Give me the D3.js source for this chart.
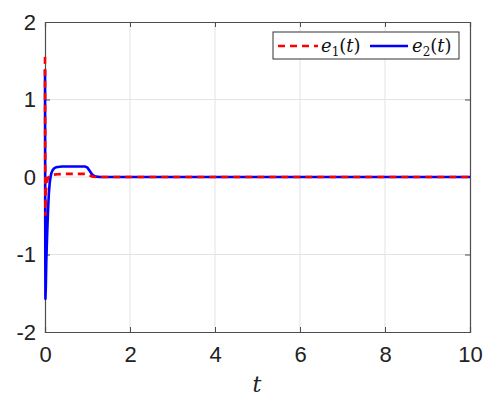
<!DOCTYPE html>
<html><head><meta charset="utf-8">
<script src="https://cdn.jsdelivr.net/npm/d3@7"></script>
<style>body{margin:0;background:#fff}</style>
</head><body>
<svg id="c" width="498" height="400"></svg>
<script>
const xTicks = [0,2,4,6,8,10];
const yTicks = [-2,-1,0,1,2];
// e1(t): red dashed
const e1T = [0, 0.004, 0.01, 0.02, 0.035, 0.05, 0.07, 0.1, 0.15, 0.2, 0.3, 0.5, 0.8, 0.95, 1.0, 1.05, 1.1, 1.2, 1.5, 3, 6, 10];
const e1V = [1.55, 0.3, -0.5, -0.18, -0.12, -0.06, -0.01, 0.01, 0.025, 0.03, 0.035, 0.04, 0.04, 0.04, 0.035, 0.02, 0.008, 0.0, 0.0, 0.0, 0.0, 0.0];
// e2(t): blue solid
const e2T = [0, 0.005, 0.01, 0.02, 0.03, 0.05, 0.07, 0.09, 0.11, 0.13, 0.15, 0.18, 0.22, 0.26, 0.3, 0.4, 0.6, 0.8, 0.95, 1.0, 1.05, 1.1, 1.15, 1.2, 1.3, 1.5, 3, 6, 10];
const e2V = [1.38, -0.5, -1.57, -1.4, -1.1, -0.75, -0.45, -0.22, -0.08, 0.0, 0.05, 0.09, 0.115, 0.125, 0.13, 0.135, 0.135, 0.135, 0.135, 0.12, 0.08, 0.04, 0.015, 0.005, 0.0, 0.0, 0.0, 0.0, 0.0];

const svg = d3.select("#c");
const L = 45, R = 470, T = 22, B = 332;
const x = d3.scaleLinear().domain([0,10]).range([L,R]);
const y = d3.scaleLinear().domain([-2,2]).range([B,T]);

// grid
const g = svg.append("g");
g.selectAll(".gx").data(xTicks.slice(1,-1)).enter().append("line")
  .attr("x1",d=>x(d)).attr("x2",d=>x(d)).attr("y1",T).attr("y2",B)
  .attr("stroke","#e3e3e3").attr("stroke-width",1);
g.selectAll(".gy").data(yTicks.slice(1,-1)).enter().append("line")
  .attr("y1",d=>y(d)).attr("y2",d=>y(d)).attr("x1",L).attr("x2",R)
  .attr("stroke","#e3e3e3").attr("stroke-width",1);

// axes
const fmt = d => String(d);
const xa = svg.append("g").attr("transform",`translate(0,${B})`)
  .call(d3.axisBottom(x).tickValues(xTicks).tickSize(-5).tickPadding(14).tickFormat(fmt));
const ya = svg.append("g").attr("transform",`translate(${L},0)`)
  .call(d3.axisLeft(y).tickValues(yTicks).tickSize(-5).tickPadding(9).tickFormat(fmt));
const xt = svg.append("g").attr("transform",`translate(0,${T})`)
  .call(d3.axisTop(x).tickValues(xTicks).tickSize(-5).tickFormat(""));
const yr = svg.append("g").attr("transform",`translate(${R},0)`)
  .call(d3.axisRight(y).tickValues(yTicks).tickSize(-5).tickFormat(""));
[xa,ya,xt,yr].forEach(a=>{
  a.selectAll("path").attr("stroke","#4d4d4d").attr("stroke-width",1.2);
  a.selectAll("line").attr("stroke","#4d4d4d");
  a.selectAll("text").attr("font-family","'Liberation Sans', Arial, sans-serif").attr("font-size",22).attr("fill","#222");
});

// lines
const line = d3.line().x(d=>x(d[0])).y(d=>y(d[1]));
svg.append("path").datum(e2T.map((t,i)=>[t,e2V[i]]))
  .attr("d",line).attr("fill","none").attr("stroke","#0000ff").attr("stroke-width",2.6)
  .attr("stroke-linejoin","round");
svg.append("path").datum(e1T.map((t,i)=>[t,e1V[i]]))
  .attr("d",line).attr("fill","none").attr("stroke","#ff0000").attr("stroke-width",2.6)
  .attr("stroke-dasharray","7,5");

// x label
svg.append("text").attr("x",257).attr("y",392).attr("text-anchor","middle")
  .attr("font-family","'DejaVu Serif', serif").attr("font-style","italic").attr("font-size",22).attr("fill","#222").text("t");

// legend
const lg = svg.append("g");
lg.append("rect").attr("x",273).attr("y",32).attr("width",186).attr("height",27)
  .attr("fill","#fff").attr("stroke","#333").attr("stroke-width",1);
lg.append("line").attr("x1",278).attr("x2",318).attr("y1",46).attr("y2",46)
  .attr("stroke","#ff0000").attr("stroke-width",2.6).attr("stroke-dasharray","7,5");
lg.append("line").attr("x1",370).attr("x2",408).attr("y1",46).attr("y2",46)
  .attr("stroke","#0000ff").attr("stroke-width",2.6);
function legText(xp, sub){
  const t = lg.append("text").attr("x",xp).attr("y",52)
    .attr("font-family","'DejaVu Serif', serif").attr("font-size",18).attr("fill","#111");
  t.append("tspan").attr("font-style","italic").text("e");
  t.append("tspan").attr("font-size",12).attr("dy",4).text(sub);
  t.append("tspan").attr("dy",-4).text("(");
  t.append("tspan").attr("font-style","italic").text("t");
  t.append("tspan").text(")");
}
legText(321,"1");
legText(412,"2");
</script>
</body></html>
